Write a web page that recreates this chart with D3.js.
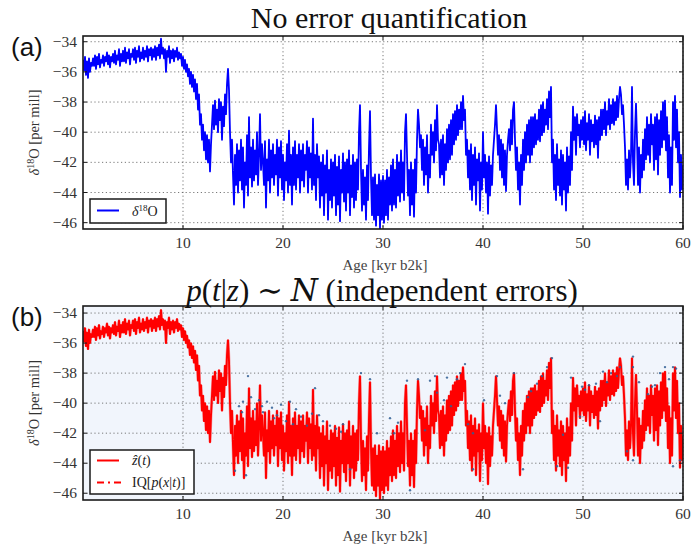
<!DOCTYPE html>
<html><head><meta charset="utf-8">
<script src="https://cdn.jsdelivr.net/npm/d3@7"></script>
<style>body{margin:0;background:#fff}</style>
</head><body><svg id="c" width="691" height="549"></svg>
<script>
// ---- data (0.1 kyr sampling, one row per kyr) ----
const ageStart = 0, ageStep = 0.1;
const d18O = [
-35.2,-35.9,-35.0,-36.2,-35.3,-36.4,-35.1,-36.0,-35.4,-35.6,
-35.1,-35.6,-34.9,-35.8,-35.0,-35.5,-34.8,-35.7,-35.2,-35.4,
-34.9,-35.6,-35.0,-35.3,-34.7,-35.5,-34.9,-35.7,-35.0,-35.3,
-34.8,-35.4,-34.6,-35.5,-34.9,-35.2,-34.5,-35.6,-34.8,-35.3,
-34.6,-35.3,-34.4,-35.4,-34.7,-35.1,-34.5,-35.5,-34.8,-35.0,
-34.5,-35.2,-34.4,-35.4,-34.6,-35.0,-34.3,-35.3,-34.7,-35.1,
-34.4,-35.2,-34.6,-35.0,-34.3,-35.3,-34.5,-34.9,-34.4,-35.2,
-34.5,-35.0,-34.3,-35.2,-34.4,-34.9,-34.2,-35.1,-33.8,-34.8,
-34.4,-35.1,-34.5,-36.0,-34.6,-35.0,-34.3,-35.4,-34.6,-35.1,
-34.5,-35.3,-34.6,-35.0,-34.4,-35.2,-34.7,-35.1,-34.8,-35.6,
-35.0,-35.8,-35.2,-36.0,-35.5,-36.3,-35.8,-36.8,-36.0,-37.0,
-36.2,-37.3,-36.5,-37.8,-36.8,-38.5,-37.5,-39.5,-38.8,-40.5,
-39.5,-41.2,-40.0,-41.8,-40.2,-42.0,-40.5,-42.6,-40.8,-39.5,
-38.2,-39.8,-37.9,-39.5,-38.5,-40.0,-37.8,-39.2,-38.0,-40.5,
-38.3,-39.6,-37.5,-38.8,-36.8,-35.8,-37.2,-40.0,-42.0,-40.5,
-42.8,-44.8,-41.5,-43.5,-40.8,-44.0,-41.2,-43.2,-40.5,-43.8,
-41.0,-45.0,-42.0,-43.5,-40.2,-44.2,-39.0,-43.0,-41.0,-43.6,
-40.5,-43.2,-41.2,-42.8,-40.0,-43.5,-41.5,-38.8,-42.5,-40.8,
-42.0,-43.5,-40.6,-45.0,-41.8,-43.2,-40.5,-44.0,-41.2,-43.0,
-40.8,-43.5,-41.5,-42.8,-40.5,-44.2,-41.0,-43.0,-40.6,-43.8,
-41.5,-44.5,-42.0,-43.2,-40.8,-44.0,-39.9,-43.5,-41.5,-44.8,
-41.0,-43.5,-40.6,-43.8,-41.5,-43.0,-40.8,-44.0,-41.2,-43.2,
-40.8,-43.6,-41.5,-42.5,-40.6,-44.0,-41.0,-43.0,-41.4,-43.8,
-39.1,-43.5,-41.5,-44.5,-40.8,-43.0,-41.6,-45.0,-42.0,-44.2,
-41.5,-45.5,-42.2,-44.0,-41.2,-45.8,-42.5,-44.5,-41.8,-45.0,
-42.0,-44.2,-41.5,-45.5,-42.3,-44.8,-41.6,-45.9,-42.5,-44.0,
-41.4,-44.6,-42.0,-45.2,-41.8,-44.0,-41.2,-45.5,-42.2,-44.3,
-41.5,-45.0,-42.0,-44.5,-41.8,-43.8,-40.0,-38.2,-42.5,-45.2,
-42.5,-44.8,-43.0,-45.8,-42.2,-44.5,-41.0,-38.6,-43.0,-45.5,
-43.0,-45.8,-42.8,-46.2,-43.5,-45.5,-42.8,-46.4,-43.2,-45.8,
-42.9,-46.0,-43.2,-45.5,-42.5,-45.8,-43.0,-44.8,-42.2,-45.2,
-41.8,-44.8,-42.5,-45.0,-41.5,-44.2,-42.0,-44.6,-41.2,-44.0,
-42.0,-44.5,-40.0,-38.8,-41.5,-44.2,-42.5,-45.5,-42.0,-44.8,
-42.5,-45.6,-41.8,-44.0,-40.5,-38.5,-39.5,-41.0,-40.2,-42.5,
-40.5,-43.5,-41.0,-42.8,-40.2,-44.0,-41.5,-43.0,-39.5,-41.5,
-40.0,-42.0,-39.2,-41.2,-38.2,-40.5,-40.8,-43.0,-40.5,-42.8,
-40.2,-43.5,-40.8,-42.5,-39.8,-42.0,-39.5,-41.8,-39.2,-41.5,
-38.8,-40.8,-38.6,-40.5,-38.2,-40.2,-38.5,-39.8,-38.0,-39.8,
-37.6,-39.2,-38.5,-41.5,-40.5,-43.0,-41.2,-43.8,-40.8,-44.5,
-41.5,-43.5,-41.0,-44.8,-41.8,-43.2,-41.4,-45.2,-42.0,-43.8,
-40.0,-43.0,-41.5,-44.0,-42.0,-45.4,-41.6,-44.2,-42.2,-43.5,
-41.5,-40.5,-39.5,-38.2,-39.8,-41.5,-40.2,-42.5,-40.5,-43.0,
-40.8,-43.5,-41.2,-43.9,-41.5,-40.5,-39.8,-41.2,-39.2,-40.8,
-38.5,-38.0,-40.5,-42.5,-41.0,-43.8,-42.0,-44.8,-41.5,-43.5,
-40.5,-42.5,-40.0,-42.0,-39.5,-41.5,-39.2,-42.0,-39.0,-41.5,
-39.0,-41.0,-38.8,-40.8,-39.2,-40.5,-38.5,-40.6,-38.2,-40.2,
-38.0,-40.0,-38.5,-39.5,-37.8,-39.8,-37.3,-39.0,-37.0,-42.0,
-40.5,-43.8,-41.5,-44.5,-40.8,-43.5,-41.8,-44.2,-41.2,-44.8,
-41.5,-43.8,-42.0,-45.2,-41.0,-44.0,-41.6,-43.5,-40.0,-42.5,
-38.3,-40.5,-39.0,-41.5,-38.8,-40.2,-39.5,-41.0,-39.2,-40.5,
-39.0,-40.8,-38.6,-41.2,-39.4,-40.5,-38.8,-41.5,-39.2,-40.6,
-39.5,-41.0,-38.9,-40.8,-39.2,-41.7,-39.0,-40.5,-38.5,-40.2,
-38.5,-39.8,-38.0,-40.2,-38.6,-39.5,-37.8,-39.8,-38.2,-39.4,
-37.8,-39.5,-38.0,-39.2,-37.6,-39.0,-37.8,-37.0,-37.5,-38.8,
-38.2,-39.5,-41.0,-43.5,-41.8,-43.8,-41.2,-43.0,-41.5,-37.0,
-42.0,-43.5,-40.0,-38.1,-40.5,-43.5,-41.0,-44.0,-41.5,-43.0,
-40.5,-42.5,-39.8,-41.8,-39.0,-41.5,-39.5,-42.0,-38.8,-40.8,
-39.5,-42.5,-39.0,-41.8,-38.8,-42.8,-39.2,-41.5,-38.6,-41.0,
-38.0,-40.5,-37.9,-41.2,-39.0,-43.0,-40.2,-44.0,-41.0,-43.5,
-38.0,-40.5,-37.6,-41.0,-38.5,-42.0,-40.0,-44.3,-41.5,-43.8,
-42.2
];
// panel (b): estimated signal follows the same trace
const zhat = d18O;
// scattered samples in panel (b)
const dotAges = [15.2,15.6,16.0,16.3,16.5,16.8,17.2,17.6,18.0,18.4,18.9,19.4,19.8,20.3,20.7,21.3,21.8,22.4,23.2,23.6,24.0,24.7,25.3,26.0,26.7,27.8,28.7,29.4,30.7,31.5,32.4,32.7,33.5,34.2,34.7,35.2,35.4,36.4,36.8,37.4,37.7,38.2,38.5,39.0,39.0,40.1,41.4,42.2,43.1,44.0,44.8,45.4,45.9,46.4,46.9,48.0,48.5,48.8,49.7,49.9,50.6,51.3,51.7,52.0,52.8,53.4,53.7,54.4,55.0,55.0,55.0,55.6,56.5,57.2,57.7,58.2,59.0,59.0,59.3,59.7,15.9,17.9,19.1,21.0,22.9,25.8,31.1,36.1,41.7,44.5,47.4,50.2,52.4,56.9,58.6];
const dotVals = [-44.5,-40.2,-39.9,-44.8,-38.2,-39.6,-40.4,-39.8,-40.6,-39.9,-40.3,-40.8,-40.1,-41.2,-39.9,-40.4,-40.9,-41.5,-39.0,-40.8,-41.2,-41.5,-41.7,-41.4,-44.4,-38.0,-38.4,-42.0,-41.0,-41.3,-38.5,-45.8,-38.4,-41.8,-38.5,-38.2,-39.3,-38.3,-40.2,-38.4,-38.0,-37.4,-41.4,-42.0,-44.4,-39.8,-38.2,-40.0,-38.0,-44.4,-39.2,-38.7,-38.2,-37.6,-37.0,-42.1,-44.3,-38.3,-40.9,-38.9,-38.8,-38.7,-41.2,-37.9,-38.0,-38.2,-37.6,-43.2,-36.9,-37.6,-43.8,-38.6,-39.4,-38.8,-38.0,-37.6,-37.6,-44.2,-37.7,-43.8,-40.6,-40.2,-41.0,-41.4,-40.7,-41.9,-42.0,-39.8,-39.5,-39.6,-44.2,-39.1,-38.6,-38.9,-38.4];
const xTicks = [10,20,30,40,50,60];
const yTicks = [-34,-36,-38,-40,-42,-44,-46];
const titles = ["No error quantification", null];

const ages = d18O.map((_, i) => +(ageStart + i * ageStep).toFixed(1));
const svg = d3.select("#c");
const SERIF = "'Liberation Serif','DejaVu Serif',serif";
const L = 83, R = 683;
const x = d3.scaleLinear().domain([0, 60]).range([L, R]);

function panel(cfg) {
  const y = d3.scaleLinear().domain(cfg.ydom).range([cfg.bottom, cfg.top]);
  const g = svg.append("g");
  const cid = "clip" + cfg.id;
  svg.append("clipPath").attr("id", cid).append("rect")
    .attr("x", L).attr("y", cfg.top).attr("width", R - L).attr("height", cfg.bottom - cfg.top);
  g.append("rect").attr("x", L).attr("y", cfg.top).attr("width", R - L)
    .attr("height", cfg.bottom - cfg.top).attr("fill", cfg.bg);
  const grid = g.append("g").attr("stroke", "#6a6a6a").attr("stroke-width", 0.9)
    .attr("stroke-dasharray", "1.2,2.6");
  xTicks.forEach(t => grid.append("line").attr("x1", x(t)).attr("x2", x(t))
    .attr("y1", cfg.top).attr("y2", cfg.bottom));
  yTicks.forEach(t => grid.append("line").attr("x1", L).attr("x2", R)
    .attr("y1", y(t)).attr("y2", y(t)));
  const plot = g.append("g").attr("clip-path", `url(#${cid})`);
  const line = d3.line().x((d, i) => x(ages[i])).y(d => y(d));
  if (cfg.dots) {
    plot.append("path").datum(cfg.values).attr("fill", "none").attr("stroke", cfg.color)
      .attr("stroke-width", 3).attr("stroke-opacity", 0.35).attr("d", line);
  }
  plot.append("path").datum(cfg.values).attr("fill", "none").attr("stroke", cfg.color)
    .attr("stroke-width", cfg.lw).attr("stroke-linejoin", "round").attr("d", line);
  if (cfg.dots) {
    plot.selectAll("circle.dot").data(dotAges).join("circle")
      .attr("cx", d => x(d)).attr("cy", (d, i) => y(dotVals[i])).attr("r", 1.2)
      .attr("fill", "#2f5d93").attr("opacity", 0.85);
  }
  g.append("rect").attr("x", L).attr("y", cfg.top).attr("width", R - L)
    .attr("height", cfg.bottom - cfg.top).attr("fill", "none")
    .attr("stroke", "#1a1a1a").attr("stroke-width", 1.6);
  const tk = g.append("g").attr("stroke", "#1a1a1a").attr("stroke-width", 1);
  yTicks.forEach(t => {
    tk.append("line").attr("x1", L).attr("x2", L + 4).attr("y1", y(t)).attr("y2", y(t));
    tk.append("line").attr("x1", R).attr("x2", R - 4).attr("y1", y(t)).attr("y2", y(t));
  });
  xTicks.forEach(t => {
    tk.append("line").attr("x1", x(t)).attr("x2", x(t)).attr("y1", cfg.bottom).attr("y2", cfg.bottom - 4);
    tk.append("line").attr("x1", x(t)).attr("x2", x(t)).attr("y1", cfg.top).attr("y2", cfg.top + 4);
  });
  yTicks.forEach(t => g.append("text").attr("x", L - 6).attr("y", y(t) + 5)
    .attr("text-anchor", "end").attr("font-family", SERIF).attr("font-size", 15.5)
    .attr("fill", "#333").text("\u2212" + Math.abs(t)));
  xTicks.forEach(t => g.append("text").attr("x", x(t)).attr("y", cfg.bottom + 19)
    .attr("text-anchor", "middle").attr("font-family", SERIF).attr("font-size", 15.5)
    .attr("fill", "#333").text(t));
  g.append("text").attr("x", (L + R) / 2 + 2).attr("y", cfg.bottom + 41)
    .attr("text-anchor", "middle").attr("font-family", SERIF).attr("font-size", 15)
    .attr("fill", "#444").text("Age [kyr b2k]");
  const yl = g.append("text").attr("transform", `translate(39,${(cfg.top + cfg.bottom) / 2}) rotate(-90)`)
    .attr("text-anchor", "middle").attr("font-family", SERIF).attr("font-size", 14.5).attr("fill", "#333");
  yl.append("tspan").attr("font-style", "italic").text("\u03b4");
  yl.append("tspan").attr("font-size", 10).attr("dy", -5).text("18");
  yl.append("tspan").attr("dy", 5).text("O [per mill]");
  g.append("text").attr("x", 11).attr("y", cfg.top + 20).attr("font-family", "'Liberation Sans',Arial,sans-serif")
    .attr("font-size", 26).attr("fill", "#111").text(cfg.letter);
  return {g, y};
}

const pa = panel({id: "a", top: 36, bottom: 229, ydom: [-46.42, -33.62], bg: "#ffffff",
  color: "#0000ff", lw: 1.8, values: d18O, letter: "(a)", dots: false});
svg.append("text").attr("x", 389).attr("y", 28).attr("text-anchor", "middle")
  .attr("font-family", SERIF).attr("font-size", 30).attr("fill", "#111").text(titles[0]);
const la = pa.g.append("g");
la.append("rect").attr("x", 90).attr("y", 199).attr("width", 76).attr("height", 24)
  .attr("fill", "#fff").attr("stroke", "#1a1a1a").attr("stroke-width", 1.5);
la.append("line").attr("x1", 97).attr("x2", 119).attr("y1", 210.5).attr("y2", 210.5)
  .attr("stroke", "#0000ff").attr("stroke-width", 2);
const lta = la.append("text").attr("x", 132).attr("y", 216).attr("font-family", SERIF)
  .attr("font-size", 14).attr("fill", "#222");
lta.append("tspan").attr("font-style", "italic").text("\u03b4");
lta.append("tspan").attr("font-size", 9).attr("dy", -5).text("18");
lta.append("tspan").attr("dy", 5).text("O");

const pb = panel({id: "b", top: 306, bottom: 500, ydom: [-46.45, -33.53], bg: "#f1f5fc",
  color: "#ff0000", lw: 1.9, values: zhat, letter: "(b)", dots: true});
const tb = svg.append("text").attr("x", 382).attr("y", 301).attr("text-anchor", "middle")
  .attr("font-family", SERIF).attr("font-size", 31).attr("fill", "#111");
tb.append("tspan").attr("font-style", "italic").text("p");
tb.append("tspan").text("(");
tb.append("tspan").attr("font-style", "italic").text("t");
tb.append("tspan").text("|");
tb.append("tspan").attr("font-style", "italic").text("z");
tb.append("tspan").text(") \u223c ");
tb.append("tspan").attr("font-style", "italic").attr("font-family", "'DejaVu Serif',serif").text("N");
tb.append("tspan").text(" (independent errors)");
const lb = pb.g.append("g");
lb.append("rect").attr("x", 90).attr("y", 450).attr("width", 104).attr("height", 44)
  .attr("fill", "#fff").attr("stroke", "#1a1a1a").attr("stroke-width", 1.5);
lb.append("line").attr("x1", 97).attr("x2", 119).attr("y1", 460.5).attr("y2", 460.5)
  .attr("stroke", "#ff0000").attr("stroke-width", 2);
lb.append("line").attr("x1", 97).attr("x2", 121).attr("y1", 482.5).attr("y2", 482.5)
  .attr("stroke", "#ff0000").attr("stroke-width", 2).attr("stroke-dasharray", "7,4,2,4");
const l1 = lb.append("text").attr("x", 132).attr("y", 465).attr("font-family", SERIF)
  .attr("font-size", 14).attr("fill", "#222");
l1.append("tspan").attr("font-style", "italic").text("\u1e91");
l1.append("tspan").text("(");
l1.append("tspan").attr("font-style", "italic").text("t");
l1.append("tspan").text(")");
const l2 = lb.append("text").attr("x", 132).attr("y", 487).attr("font-family", SERIF)
  .attr("font-size", 14).attr("fill", "#222");
l2.append("tspan").text("IQ[");
l2.append("tspan").attr("font-style", "italic").text("p");
l2.append("tspan").text("(");
l2.append("tspan").attr("font-style", "italic").text("x");
l2.append("tspan").text("|");
l2.append("tspan").attr("font-style", "italic").text("t");
l2.append("tspan").text(")]");
</script>
</body></html>
